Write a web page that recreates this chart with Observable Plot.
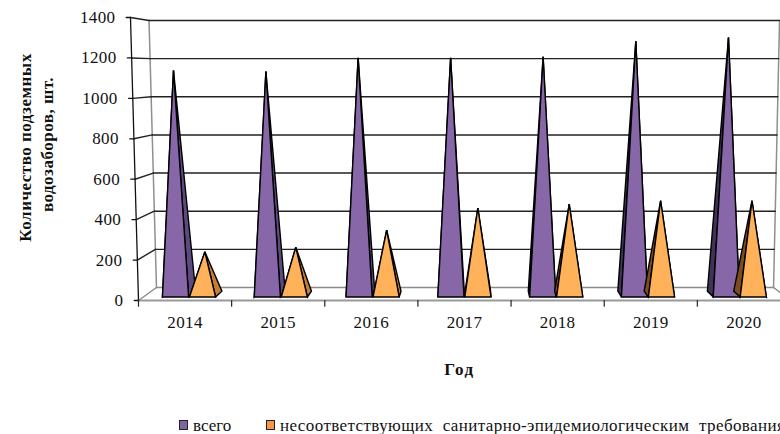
<!DOCTYPE html>
<html lang="ru">
<head>
<meta charset="utf-8">
<script src="https://cdn.jsdelivr.net/npm/d3@7"></script>
<script src="https://cdn.jsdelivr.net/npm/@observablehq/plot@0.6"></script>
<style>
  html, body { margin: 0; padding: 0; background: #fff; overflow: hidden; }
  #chart svg { display: block; }
  #legend {
    position: relative; width: 780px; height: 26px; overflow: hidden;
    font: 17px "Liberation Serif", serif; color: #111; white-space: nowrap;
  }
  #legend span { position: absolute; top: 10px; line-height: 16px; height: 16px; }
  #legend span.long { letter-spacing: 0.4px; word-spacing: 5px; }
  #legend i {
    position: absolute; top: 12px; width: 7px; height: 7.5px;
    border: 1.5px solid #222; box-sizing: content-box;
  }
</style>
</head>
<body>
<div id="chart"></div>
<div id="legend"></div>
<script>
const years = [2014, 2015, 2016, 2017, 2018, 2019, 2020];
const total = [1138, 1133, 1202, 1202, 1208, 1286, 1306];
const nonCompliant = [215, 238, 325, 438, 458, 475, 475];
const valueTicks = [0, 200, 400, 600, 800, 1000, 1200, 1400];
const seriesNames = ["всего", "несоответствующих санитарно-эпидемиологическим требованиям"];
const yTitleLines = ["Количество подземных", "водозаборов, шт."];
const xTitle = "Год";

const yMax = 1400;
const lerp = (a, b, t) => a + (b - a) * t;

// Maps (category position, value, depth 0..1) onto the x/y scale domains,
// giving the box its perspective: the back wall is narrower and sits higher.
function project(c, v, d) {
  const t = v / yMax;
  const left = lerp(-0.086 * t, 0.193 - 0.08 * t, d);
  const right = lerp(7 + 0.086 * t, 6.818 + 0.0644 * t, d);
  return {x: left + (right - left) * c / 7, y: lerp(v, 64.3 + 0.9435 * v, d)};
}

const segment = (id, a, b) => [{id, ...project(...a)}, {id, ...project(...b)}];

// Box: back-wall grid, side-wall grid, floor
const backGrid = valueTicks.slice(1).flatMap((v) => segment("b" + v, [0, v, 1], [7, v, 1]));
const sideGrid = valueTicks.slice(1).flatMap((v) => segment("s" + v, [0, v, 0], [0, v, 1]));
const leftTicks = valueTicks.flatMap((v) => segment("t" + v, [-0.045, v, 0], [0, v, 0]));
const wallEdges = [
  ...segment("wl", [0, 0, 1], [0, yMax, 1]),
  ...segment("wr", [7, 0, 1], [7, yMax, 1])
];
const floorEdges = [
  ...segment("fb", [0, 0, 1], [7, 0, 1]),
  ...segment("fr", [7, 0, 1], [7, 0, 0]),
  ...segment("fl", [0, 0, 0], [0, 0, 1])
];
const floorFront = segment("ff", [0, 0, 0], [7, 0, 0]);
const xTicks = d3.range(8).flatMap((c) => [
  {id: c, x: c, y: 0},
  {id: c, x: c, y: -28}
]);

// One square-based pyramid per value
const frontDepth = 0.27, backDepth = 0.72, tipDepth = 0.495, baseWidth = 0.285;

function faces(values, offset) {
  const front = [], leftFace = [], rightFace = [];
  values.forEach((v, i) => {
    const a = i + offset, b = a + baseWidth;
    const tip = project((a + b) / 2, v, tipDepth);
    const fl = project(a, 0, frontDepth), fr = project(b, 0, frontDepth);
    const bl = project(a, 0, backDepth), br = project(b, 0, backDepth);
    front.push(...[fl, fr, tip].map((p) => ({id: i, ...p})));
    leftFace.push(...[fl, bl, tip].map((p) => ({id: i, ...p})));
    rightFace.push(...[fr, br, tip].map((p) => ({id: i, ...p})));
  });
  return {front, leftFace, rightFace};
}

const pyramid = (rows, fill) => Plot.line(rows, {
  x: "x", y: "y", z: "id", fill, stroke: "#000", strokeWidth: 1.4,
  curve: "linear-closed", strokeLinejoin: "miter", strokeMiterlimit: 3
});

function pyramids(values, offset, colors) {
  const f = faces(values, offset);
  return [
    pyramid(f.leftFace, colors.left),
    pyramid(f.rightFace, colors.right),
    pyramid(f.front, colors.front)
  ];
}

const rule = (rows, stroke, strokeWidth) => Plot.line(rows, {x: "x", y: "y", z: "id", stroke, strokeWidth});

const serif = "Liberation Serif";
const valueLabels = valueTicks.map((v) => ({v, ...project(0, v, 0)}));
const yearLabels = years.map((year, i) => ({year, x: i + 0.5, y: 0}));
const titleStyle = {
  frameAnchor: "top-left", lineAnchor: "middle", rotate: -90, text: (d) => d,
  fontFamily: serif, fontSize: 17, fontWeight: "bold", fill: "#111", textAnchor: "middle"
};

const chart = Plot.plot({
  width: 780,
  height: 408,
  margin: 0,
  x: {domain: [0, 7], range: [138, 790], axis: null},
  y: {domain: [0, yMax], range: [300, 17], axis: null},
  style: {background: "#fff"},
  marks: [
    rule(wallEdges, "#8f8f8f", 1.5),
    rule(floorEdges, "#8a8a8a", 1.4),
    rule(floorFront, "#999", 1.8),
    rule(backGrid, "#222", 1.4),
    rule(sideGrid, "#222", 1.4),
    rule(leftTicks, "#111", 1.3),
    rule(segment("axis", [0, 0, 0], [0, yMax, 0]), "#111", 1.3),
    rule(xTicks, "#222", 1.2),
    ...pyramids(total, 0.208, {front: "#8767a8", left: "#3f3358", right: "#5d4a80"}),
    ...pyramids(nonCompliant, 0.502, {front: "#ffb25a", left: "#7a4d1c", right: "#c57e33"}),
    Plot.text(valueLabels, {
      x: "x", y: "y", text: (d) => String(d.v), dx: -15, textAnchor: "end",
      fontFamily: serif, fontSize: 17, fill: "#111"
    }),
    Plot.text(yearLabels, {
      x: "x", y: "y", text: (d) => String(d.year), dy: 22,
      fontFamily: serif, fontSize: 17, fill: "#111"
    }),
    Plot.text([xTitle], {
      frameAnchor: "top-left", lineAnchor: "middle", dx: 459, dy: 369, text: (d) => d,
      fontFamily: serif, fontSize: 17, fontWeight: "bold", fill: "#111", textAnchor: "middle"
    }),
    Plot.text([yTitleLines[0]], {...titleStyle, dx: 25, dy: 147}),
    Plot.text([yTitleLines[1]], {...titleStyle, dx: 47, dy: 144})
  ]
});
document.getElementById("chart").append(chart);

// Letter spacing per text kind; text marks have no option for it
d3.select(chart).selectAll("text").style("letter-spacing", function () {
  const label = this.textContent;
  if (label === xTitle) return "1.5px";
  if (yTitleLines.includes(label)) return "0.5px";
  return "0.4px";
});

// Legend row under the chart, clipped by the page edge
const legend = document.getElementById("legend");
[{x: 179, textX: 193, color: "#8064a2"}, {x: 266, textX: 280, color: "#f79646"}].forEach((item, i) => {
  const swatch = document.createElement("i");
  swatch.style.left = item.x + "px";
  swatch.style.background = item.color;
  const label = document.createElement("span");
  label.style.left = item.textX + "px";
  if (i === 1) label.className = "long";
  label.textContent = seriesNames[i];
  legend.append(swatch, label);
});
</script>
</body>
</html>
